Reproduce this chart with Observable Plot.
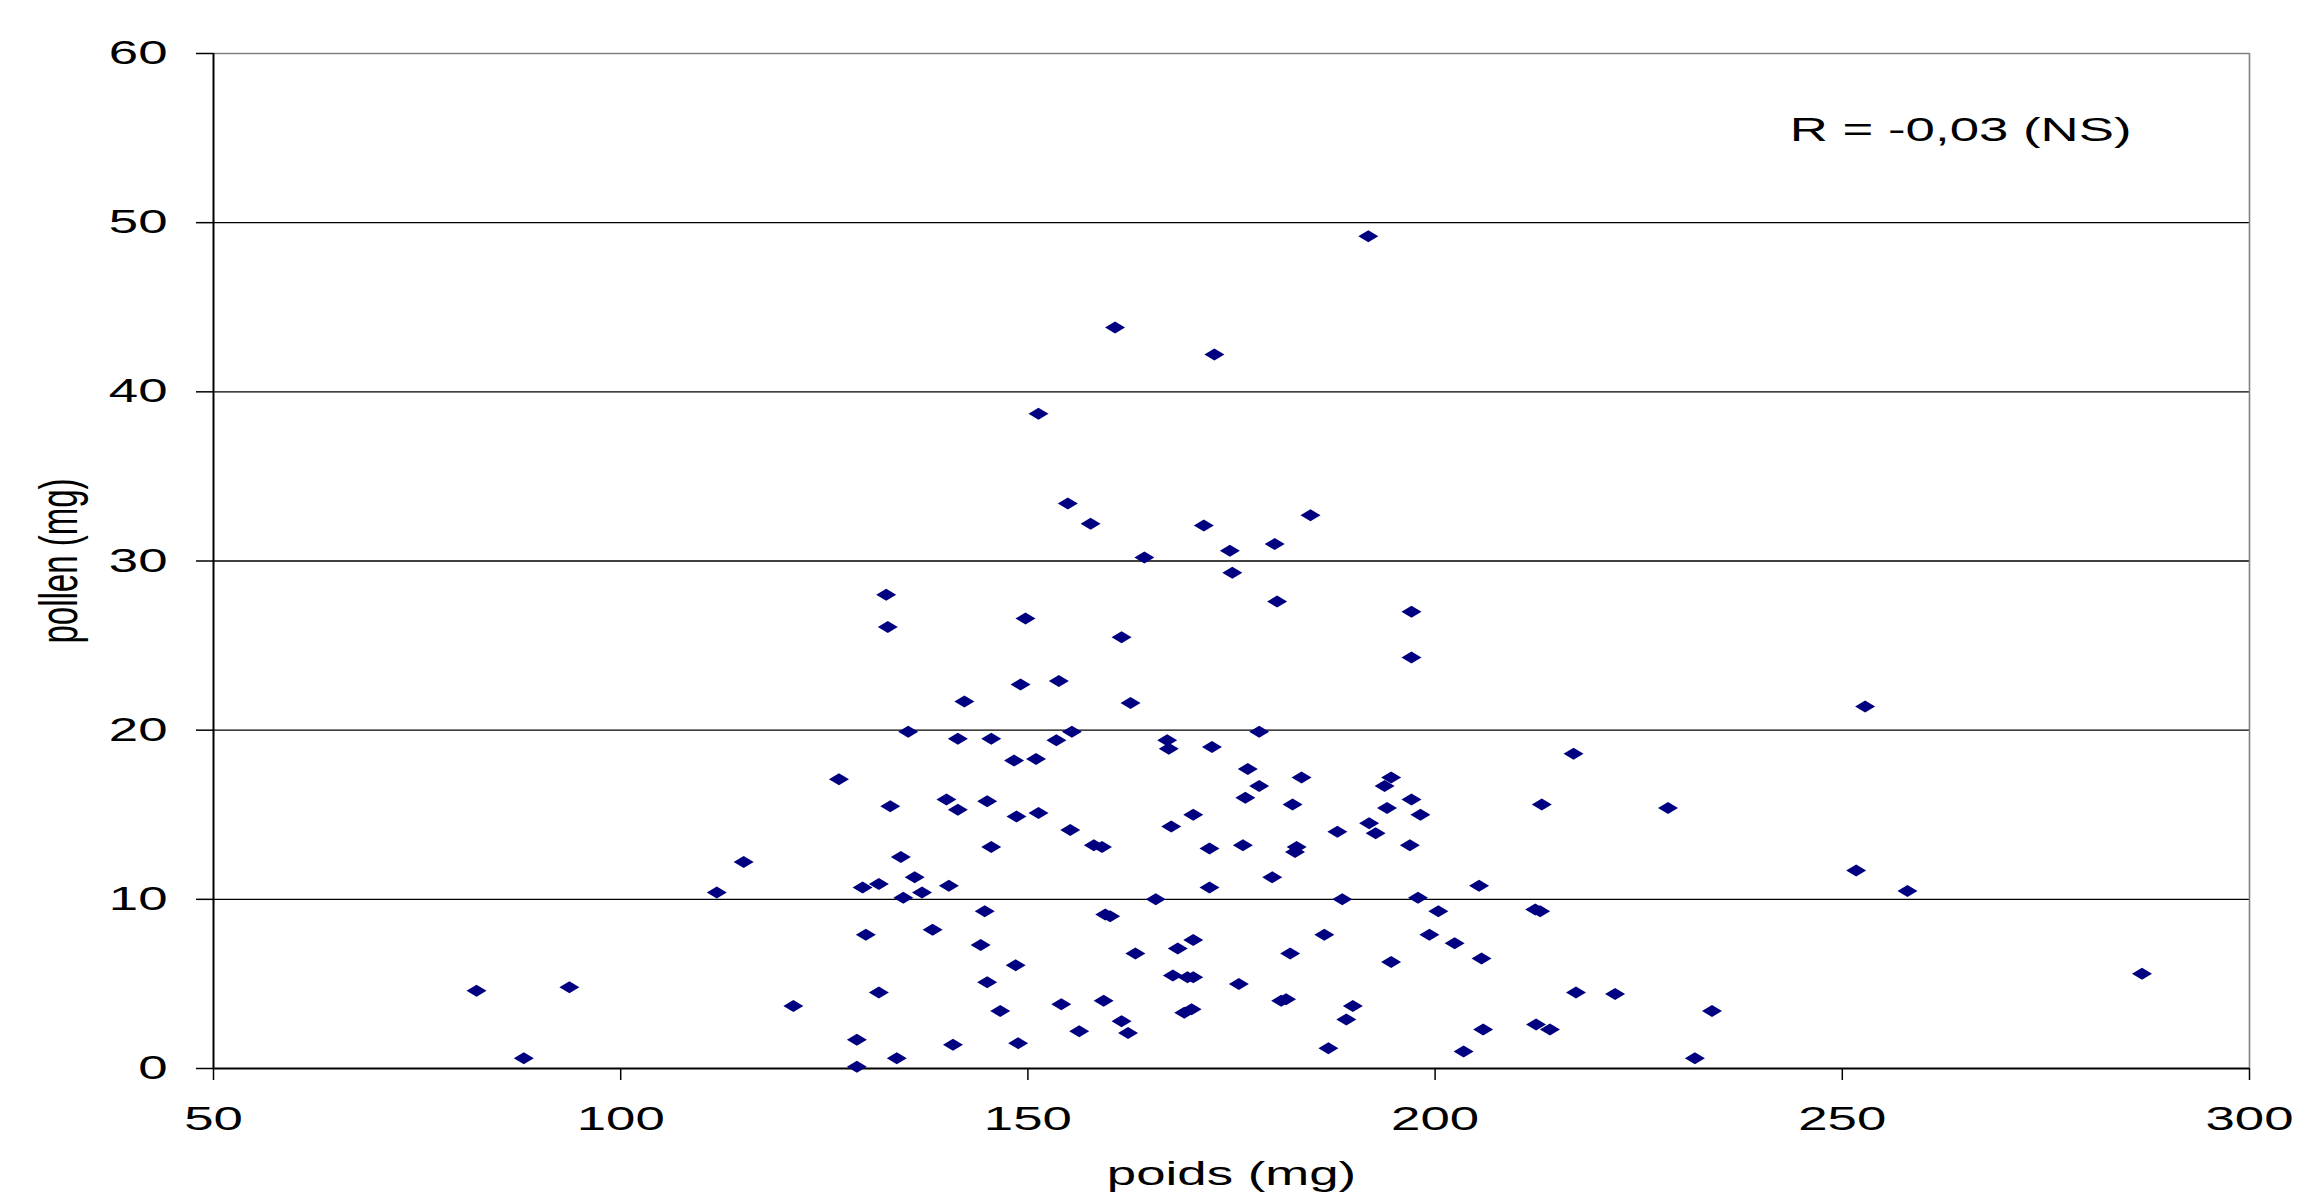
<!DOCTYPE html>
<html>
<head>
<meta charset="utf-8">
<script src="https://cdn.jsdelivr.net/npm/d3@7"></script>
<script src="https://cdn.jsdelivr.net/npm/@observablehq/plot@0.6"></script>
<style>
  html, body { margin: 0; padding: 0; background: #fff; }
  #chart { width: 2299px; height: 1199px; overflow: hidden; }
</style>
</head>
<body>
<div id="chart"></div>
<script>
// ---- data ----
const poids = [
  82.3, 88.1, 93.7, 111.8, 115.1, 121.2, 126.8, 129.0, 129.0, 129.7,
  130.1, 131.7, 131.7, 132.6, 132.8, 133.1, 133.9, 134.4, 134.7, 135.3,
  136.1, 137.0, 138.3, 140.0, 140.3, 140.8, 141.4, 141.4, 142.2, 144.2,
  144.7, 145.0, 145.0, 145.5, 145.5, 146.6, 148.3, 148.5, 148.6, 148.8,
  149.1, 149.7, 151.0, 151.3, 151.3, 153.5, 153.8, 154.1, 154.9, 155.2,
  155.4, 156.3, 157.7, 158.1, 159.1, 159.3, 159.5, 160.1, 160.7, 161.5,
  161.5, 162.3, 162.6, 163.2, 164.3, 165.7, 167.1, 167.3, 167.6, 167.8,
  168.4, 169.2, 169.6, 170.1, 170.3, 170.3, 170.3, 171.6, 172.3, 172.3,
  172.6, 172.9, 174.8, 175.1, 175.9, 176.4, 176.7, 177.0, 178.4, 178.4,
  180.0, 180.3, 180.6, 181.1, 181.7, 182.2, 182.5, 182.8, 183.0, 183.6,
  184.7, 186.4, 186.9, 188.0, 188.6, 189.1, 189.9, 191.8, 191.9, 192.7,
  193.8, 194.1, 194.6, 194.6, 196.9, 197.1, 197.1, 197.1, 197.9, 198.2,
  199.3, 200.4, 202.4, 203.5, 205.4, 205.7, 205.9, 212.3, 212.9, 212.4,
  214.1, 213.1, 217.0, 217.3, 222.1, 228.6, 231.9, 234.0, 251.7, 252.8,
  258.0, 286.8
];
const pollen = [
  4.6, 0.6, 4.8, 10.4, 12.2, 3.7, 17.1, 1.7, 0.1, 10.7,
  7.9, 10.9, 4.5, 28.0, 26.1, 15.5, 0.6, 12.5, 10.1, 19.9,
  11.3, 10.4, 8.2, 15.9, 10.8, 1.4, 19.5, 15.3, 21.7, 7.3,
  9.3, 15.8, 5.1, 19.5, 13.1, 3.4, 18.2, 6.1, 14.9, 1.5,
  22.7, 26.6, 18.3, 15.1, 38.7, 19.4, 22.9, 3.8, 33.4, 14.1,
  19.9, 2.2, 32.2, 13.2, 13.1, 4.0, 9.1, 9.0, 43.8, 25.5,
  2.8, 2.1, 21.6, 6.8, 30.2, 10.0, 19.4, 18.9, 14.3, 5.5,
  7.1, 3.3, 5.4, 3.5, 5.4, 15.0, 7.6, 32.1, 13.0, 10.7,
  19.0, 42.2, 30.6, 29.3, 5.0, 13.2, 16.0, 17.7, 19.9, 16.7,
  11.3, 31.0, 27.6, 4.0, 4.1, 6.8, 15.6, 12.8, 13.1, 17.2,
  32.7, 7.9, 1.2, 14.0, 10.0, 2.9, 3.7, 49.2, 14.5, 13.9,
  16.7, 15.4, 17.2, 6.3, 13.2, 27.0, 24.3, 15.9, 10.1, 15.0,
  7.9, 9.3, 7.4, 1.0, 10.8, 6.5, 2.3, 9.4, 9.3, 2.6,
  2.3, 15.6, 18.6, 4.5, 4.4, 15.4, 0.6, 3.4, 11.7, 21.4,
  10.5, 5.6
];
const xTicks = [50, 100, 150, 200, 250, 300];
const yTicks = [0, 10, 20, 30, 40, 50, 60];
const xLabel = "poids (mg)";
const yLabel = "pollen (mg)";
const annotation = "R = -0,03 (NS)";

const data = poids.map((p, i) => ({poids: p, pollen: pollen[i]}));

// Excel-like flat diamond marker
const flatDiamond = {
  draw(ctx) {
    const w = 10, h = 6;
    ctx.moveTo(-w, 0);
    ctx.lineTo(0, -h);
    ctx.lineTo(w, 0);
    ctx.lineTo(0, h);
    ctx.closePath();
  }
};

const FONT = "'Liberation Sans', Arial, Helvetica, sans-serif";
const FS = 33;

const chart = Plot.plot({
  width: 2299,
  height: 1199,
  marginLeft: 213,
  marginRight: 50,
  marginTop: 53,
  marginBottom: 131,
  style: {fontFamily: FONT, fontSize: FS + "px", background: "#fff", color: "#000"},
  x: {domain: [50, 300]},
  y: {domain: [0, 60]},
  marks: [
    Plot.ruleY(yTicks.filter(d => d > 0 && d < 60), {stroke: "#000", strokeWidth: 1.4}),
    Plot.ruleY([60], {stroke: "#808080", strokeWidth: 1.6}),
    Plot.ruleX([300], {stroke: "#808080", strokeWidth: 1.6}),
    Plot.axisY({ticks: yTicks, tickSize: 17, tickPadding: 29, tickFormat: d => String(d), fontSize: FS, label: null, strokeWidth: 1.5}),
    Plot.axisX({ticks: xTicks, tickSize: 12, tickPadding: 26, tickFormat: d => String(d), fontSize: FS, label: null, strokeWidth: 1.5}),
    Plot.ruleX([50], {stroke: "#000", strokeWidth: 2}),
    Plot.ruleY([0], {stroke: "#000", strokeWidth: 2}),
    Plot.dot(data, {x: "poids", y: "pollen", symbol: flatDiamond, fill: "#000080", stroke: "none"}),
    Plot.text([annotation], {frameAnchor: "top-right", text: d => d, dx: -118, dy: 77, textAnchor: "end", lineAnchor: "middle", fontSize: FS, fill: "#000"}),
    Plot.text([xLabel], {frameAnchor: "bottom", text: d => d, dy: 106, textAnchor: "middle", lineAnchor: "middle", fontSize: FS, fill: "#000"}),
    Plot.text([yLabel], {frameAnchor: "left", text: d => d, dx: -154, rotate: -90, textAnchor: "middle", lineAnchor: "middle", fontSize: FS, fill: "#000"})
  ]
});

document.getElementById("chart").append(chart);

// The reference's text is stretched horizontally (~1.6x); reproduce that.
const SX = 1.6;
chart.querySelectorAll("text").forEach(t => {
  const r = t.getBoundingClientRect();
  const anchor = getComputedStyle(t).textAnchor;
  const rotated = (t.getAttribute("transform") || "").includes("rotate");
  let ax;
  if (rotated || anchor === "middle") ax = (r.left + r.right) / 2;
  else if (anchor === "end") ax = r.right;
  else ax = r.left;
  const m = t.parentNode.getScreenCTM();
  const p = new DOMPoint(ax, r.top).matrixTransform(m.inverse());
  const prev = t.getAttribute("transform") || "";
  t.setAttribute("transform", `translate(${p.x},0) scale(${SX},1) translate(${-p.x},0) ${prev}`);
});
</script>
</body>
</html>
